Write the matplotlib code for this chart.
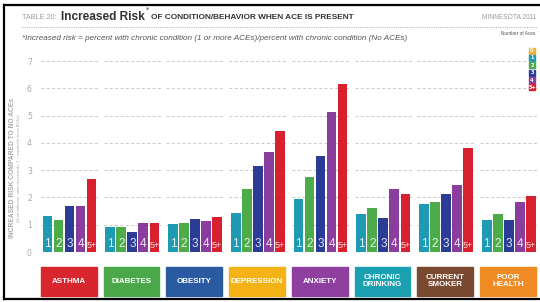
import matplotlib
matplotlib.use("Agg")
import matplotlib.pyplot as plt
from matplotlib.patches import Rectangle
import numpy as np

categories = ["ASTHMA", "DIABETES", "OBESITY", "DEPRESSION", "ANXIETY",
              "CHRONIC\nDRINKING", "CURRENT\nSMOKER", "POOR\nHEALTH"]
ace_labels = ["1", "2", "3", "4", "5+"]
legend_labels = ["0", "1", "2", "3", "4", "5+"]

# increased risk per ACE count (1, 2, 3, 4, 5+)
asthma = [1.33, 1.17, 1.69, 1.69, 2.69]
diabetes = [0.90, 0.90, 0.75, 1.05, 1.07]
obesity = [1.04, 1.07, 1.20, 1.15, 1.27]
depression = [1.42, 2.30, 3.15, 3.68, 4.44]
anxiety = [1.93, 2.74, 3.52, 5.14, 6.15]
drinking = [1.39, 1.60, 1.24, 2.30, 2.12]
smoker = [1.77, 1.83, 2.12, 2.47, 3.80]
poor_health = [1.16, 1.39, 1.16, 1.82, 2.07]
series = [asthma, diabetes, obesity, depression, anxiety, drinking, smoker, poor_health]

yticks = [0, 1, 2, 3, 4, 5, 6, 7]

ACE_COLORS = ["#f2b233", "#1e9bb2", "#4dab4a", "#2b3c96", "#8b3d9e", "#d8202f"]
BOX_COLORS = ["#d9262e", "#4aa84a", "#2a5aa2", "#f5b215", "#8e3fa0",
              "#1ba0b2", "#7a4a30", "#f08a22"]
GRAY = "#a8a8a8"
DARK = "#333333"
NARROW = "Liberation Sans"

fig = plt.figure(figsize=(5.4, 3.02), dpi=100)
fig.patch.set_facecolor("white")
renderer = fig.canvas.get_renderer()


def fig_text_px(x, y, s, target_w=None, **kw):
    """Place text at pixel coords (from top-left); optionally shrink to a width."""
    t = fig.text(x / 540, 1 - y / 302, s, **kw)
    if target_w is not None:
        w = t.get_window_extent(renderer).width
        t.set_fontsize(t.get_fontsize() * target_w / w)
    return t


# axes placed in pixels
L, R, B, T = 36, 538, 252, 55.7
ax = fig.add_axes([L / 540, 1 - B / 302, (R - L) / 540, (B - T) / 302])
ax.set_xlim(-1.05, 44.55)
ax.set_ylim(0, 7.2)

pitch = 5.7
width = 0.88
for g, vals in enumerate(series):
    x0 = g * pitch
    for y in yticks[1:]:
        ax.plot([x0 - 0.6, x0 + 4.6], [y, y], color="#c8c8c8", lw=0.7,
                ls=(0, (3, 2.5)), zorder=1)
    xs = x0 + np.arange(5)
    ax.bar(xs, vals, width=width, color=ACE_COLORS[1:], zorder=2)
    for x, lab in zip(xs, ace_labels):
        ax.text(x, 0.06, lab, ha="center", va="bottom", color="white",
                alpha=0.85, fontsize=8.5 if lab != "5+" else 6.5, zorder=3,
                family=NARROW)
    # label boxes below
    ax.add_patch(Rectangle((x0 - 0.6, -1.61), 5.05, 1.06, color=BOX_COLORS[g],
                           clip_on=False, zorder=2))
    ax.text(x0 + 1.92, -1.08, categories[g], ha="center", va="center",
            color="white", fontsize=5.8, fontweight="bold", family=NARROW,
            linespacing=1.0, clip_on=False)
    ax.plot([x0 - 0.6, x0 + 4.6], [0, 0], color="#dddddd", lw=0.8, zorder=1)

ax.set_yticks(yticks)
ax.set_xticks([])
ax.tick_params(axis="y", length=0, labelsize=5.5, labelcolor=GRAY, pad=3)
for s in ax.spines.values():
    s.set_visible(False)

# y label
fig_text_px(13, 168, "INCREASED RISK COMPARED TO NO ACEs", rotation=90,
            ha="center", va="center", fontsize=4.8, color=GRAY,
            fontweight="bold", family=NARROW)
fig_text_px(19, 168, "(Dual indicator: ratio of percents, 1 = equal risk to no ACEs)",
            rotation=90, ha="center", va="center", fontsize=3.0, color=GRAY,
            family=NARROW)

# title
fig_text_px(22, 19, "TABLE 20:", target_w=35, fontsize=6, color="#9a9a9a",
            va="baseline", family=NARROW)
fig_text_px(61, 19.5, "Increased Risk", target_w=84, fontsize=10, color=DARK,
            fontweight="bold", va="baseline", family=NARROW)
fig_text_px(146, 12, "*", fontsize=5, color=DARK, va="baseline")
fig_text_px(151, 19, "OF CONDITION/BEHAVIOR WHEN ACE IS PRESENT", target_w=204,
            fontsize=6, color=DARK, fontweight="bold", va="baseline", family=NARROW)
fig_text_px(536, 19, "MINNESOTA 2011", fontsize=4.8, color="#9a9a9a",
            ha="right", va="baseline", family=NARROW)
fig.add_artist(plt.Line2D([22 / 540, 537 / 540], [1 - 26.5 / 302, 1 - 26.5 / 302],
                          color="#bbbbbb", lw=0.8, ls=(0, (1, 1))))
fig_text_px(22, 40,
            "*Increased risk = percent with chronic condition (1 or more ACEs)/percent with chronic condition (No ACEs)",
            target_w=388, fontsize=5.2, color="#555555", style="italic",
            va="baseline", family=NARROW)

# legend
fig_text_px(535, 35, "Number of Aces", fontsize=3.4, color="#555555",
            ha="right", va="baseline", family=NARROW)
for i, (lab, col) in enumerate(zip(legend_labels, ACE_COLORS)):
    cy = 50.5 + i * 7.4
    fig.add_artist(Rectangle((529 / 540, 1 - (cy + 3) / 302), 6 / 540, 6 / 302,
                             color=col, transform=fig.transFigure))
    fig_text_px(532, cy, lab, fontsize=3.6, color="white",
                ha="center", va="center", fontweight="bold")

# frame (right side runs off the image)
frame = dict(color="black", lw=1.6, transform=fig.transFigure)
fig.add_artist(plt.Line2D([4 / 540, 4 / 540], [1 - 4.5 / 302, 1 - 299 / 302], **frame))
fig.add_artist(plt.Line2D([4 / 540, 1], [1 - 4.5 / 302, 1 - 4.5 / 302], **frame))
fig.add_artist(plt.Line2D([4 / 540, 1], [1 - 299 / 302, 1 - 299 / 302], **frame))

fig.savefig("out.png", dpi=100)
